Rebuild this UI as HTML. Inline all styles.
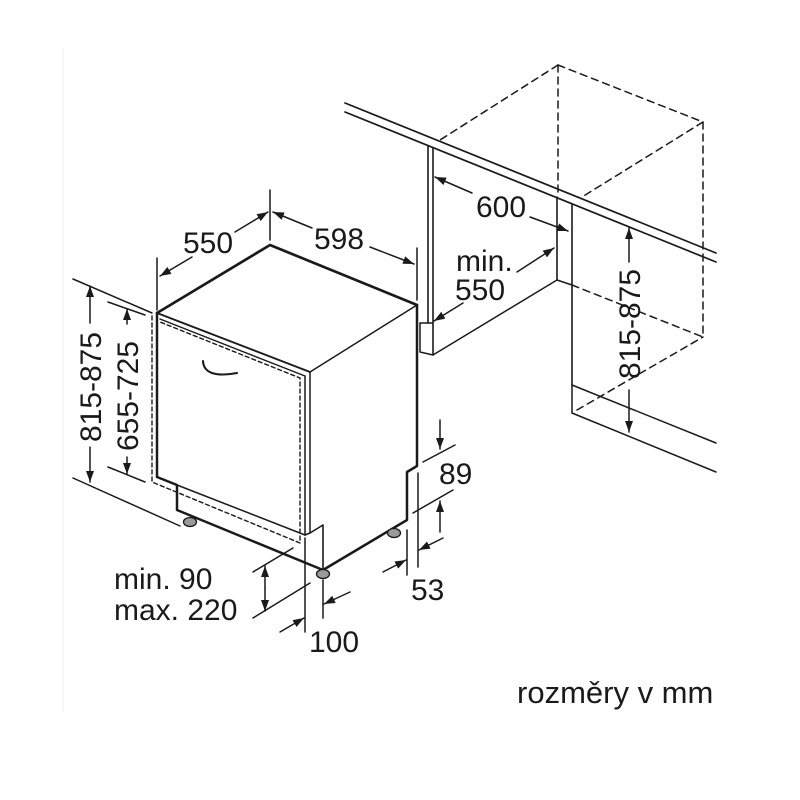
<!DOCTYPE html>
<html>
<head>
<meta charset="utf-8">
<style>
html,body{margin:0;padding:0;background:#fff;}
svg{display:block;}
text{font-family:"Liberation Sans",Arial,sans-serif;fill:#1a1a1a;}
</style>
</head>
<body>
<svg width="800" height="800" viewBox="0 0 800 800" xmlns="http://www.w3.org/2000/svg">
<defs>
<marker id="a" markerUnits="userSpaceOnUse" markerWidth="11" markerHeight="8" refX="11" refY="4" orient="auto">
<path d="M0,0 L11,4 L0,8 z" fill="#1a1a1a"/>
</marker>
</defs>
<rect width="800" height="800" fill="#fff"/>
<line x1="63" y1="48" x2="63" y2="712" stroke="#eeeeee" stroke-width="1"/>

<g stroke="#1a1a1a" fill="none" stroke-linecap="round" stroke-linejoin="round">
<!-- ===== Dishwasher ===== -->
<path d="M152,316 L152,482 L300,543 L300,378 L160,322" stroke-dasharray="4,3" stroke-width="1.4"/>
<polyline points="157,313 270,245 417,305" stroke-width="2.7"/>
<polyline points="417,305 417,466 407,472 407,520 323,570 177,510 177,485 157,477 157,313" stroke-width="2.5"/>
<line x1="157" y1="313" x2="310" y2="372" stroke-width="1.9"/>
<line x1="160" y1="319" x2="305" y2="376" stroke-width="1.4"/>
<line x1="310" y1="372" x2="417" y2="305" stroke-width="1.5"/>
<line x1="305" y1="376" x2="305" y2="535" stroke-width="1.5"/>
<line x1="310" y1="372" x2="310" y2="533" stroke-width="1.5"/>
<line x1="177" y1="485" x2="305" y2="535" stroke-width="1.5"/>
<polyline points="305,535 310,533 323,525 323,570" stroke-width="1.6"/>
<path d="M203,361 Q204,379 237,373" stroke-width="2.1"/>
<ellipse cx="190" cy="522" rx="6.5" ry="4.5" fill="#9a9a9a" stroke-width="1.3"/>
<ellipse cx="323" cy="574" rx="6.5" ry="4.5" fill="#9a9a9a" stroke-width="1.3"/>
<ellipse cx="394" cy="533" rx="6.5" ry="4.5" fill="#9a9a9a" stroke-width="1.3"/>

<g stroke-width="1.5">
<line x1="157" y1="258" x2="157" y2="310"/>
<line x1="270" y1="190" x2="270" y2="240"/>
<line x1="417" y1="248" x2="417" y2="300"/>
<line x1="192" y1="257" x2="160" y2="276" marker-end="url(#a)"/>
<line x1="235" y1="232" x2="268" y2="212" marker-end="url(#a)"/>
<line x1="312" y1="228" x2="273" y2="212" marker-end="url(#a)"/>
<line x1="370" y1="247" x2="414" y2="264" marker-end="url(#a)"/>

<line x1="73" y1="279" x2="152" y2="313"/>
<line x1="108" y1="302" x2="145" y2="315"/>
<line x1="73" y1="478" x2="180" y2="526"/>
<line x1="108" y1="467" x2="145" y2="482"/>
<line x1="90" y1="323" x2="90" y2="286" marker-end="url(#a)"/>
<line x1="90" y1="447" x2="90" y2="482" marker-end="url(#a)"/>
<line x1="127" y1="324" x2="127" y2="309" marker-end="url(#a)"/>
<line x1="127" y1="457" x2="127" y2="474" marker-end="url(#a)"/>

<line x1="345" y1="103" x2="716" y2="253" stroke-width="1.7"/>
<line x1="345" y1="112" x2="716" y2="262" stroke-width="1.7"/>
<line x1="428" y1="146" x2="428" y2="323" stroke-width="1.6"/>
<line x1="433" y1="148" x2="433" y2="355" stroke-width="1.6"/>
<polyline points="420,323 433,323"/>
<polyline points="420,323 420,352 433,355 557,280 572,285"/>
<line x1="557" y1="197" x2="557" y2="280" stroke-width="1.6"/>
<line x1="572" y1="204" x2="572" y2="385" stroke-width="1.6"/>
<line x1="572" y1="385" x2="716" y2="443"/>
<line x1="572" y1="385" x2="572" y2="413"/>
<line x1="572" y1="413" x2="716" y2="472"/>
<g stroke-dasharray="7,5">
<line x1="572" y1="285" x2="703" y2="337"/>
<line x1="577" y1="410" x2="703" y2="337"/>
<line x1="703" y1="122" x2="703" y2="337"/>
<line x1="558" y1="65" x2="703" y2="122"/>
<line x1="558" y1="65" x2="558" y2="195"/>
<line x1="558" y1="65" x2="440" y2="140"/>
<line x1="703" y1="122" x2="582" y2="197"/>
</g>
<line x1="472" y1="193" x2="435" y2="177" marker-end="url(#a)"/>
<line x1="530" y1="217" x2="568" y2="231" marker-end="url(#a)"/>
<line x1="517" y1="272" x2="554" y2="248" marker-end="url(#a)"/>
<line x1="463" y1="303" x2="434" y2="321" marker-end="url(#a)"/>
<line x1="629" y1="262" x2="629" y2="228" marker-end="url(#a)"/>
<line x1="629" y1="390" x2="629" y2="432" marker-end="url(#a)"/>

<line x1="440" y1="420" x2="440" y2="449" marker-end="url(#a)"/>
<line x1="423" y1="462" x2="455" y2="445"/>
<line x1="413" y1="513" x2="453" y2="490"/>
<line x1="440" y1="532" x2="440" y2="501" marker-end="url(#a)"/>
<line x1="418" y1="473" x2="418" y2="567"/>
<line x1="407" y1="530" x2="407" y2="575"/>
<line x1="383" y1="572" x2="406" y2="560" marker-end="url(#a)"/>
<line x1="443" y1="538" x2="419" y2="550" marker-end="url(#a)"/>
<line x1="305" y1="538" x2="305" y2="632"/>
<line x1="323" y1="580" x2="323" y2="618"/>
<line x1="280" y1="632" x2="304" y2="618" marker-end="url(#a)"/>
<line x1="350" y1="592" x2="324" y2="604" marker-end="url(#a)"/>
<line x1="253" y1="572" x2="293" y2="548"/>
<line x1="253" y1="618" x2="310" y2="583"/>
<line x1="265" y1="588" x2="265" y2="566" marker-end="url(#a)"/>
<line x1="265" y1="588" x2="265" y2="611" marker-end="url(#a)"/>
</g>
</g>

<g font-size="30">
<text x="183" y="253">550</text>
<text x="314" y="249">598</text>
<text x="476" y="217">600</text>
<text x="456" y="271">min.</text>
<text x="455" y="300">550</text>
<text x="439" y="484">89</text>
<text x="411" y="600">53</text>
<text x="309" y="652">100</text>
<text x="114" y="589">min. 90</text>
<text x="114" y="620">max. 220</text>
<text transform="translate(101,387) rotate(-90)" text-anchor="middle">815-875</text>
<text transform="translate(138,396) rotate(-90)" text-anchor="middle">655-725</text>
<text transform="translate(640,324) rotate(-90)" text-anchor="middle">815-875</text>
</g>
<text x="517" y="703" font-size="31">rozměry v mm</text>
</svg>
</body>
</html>
